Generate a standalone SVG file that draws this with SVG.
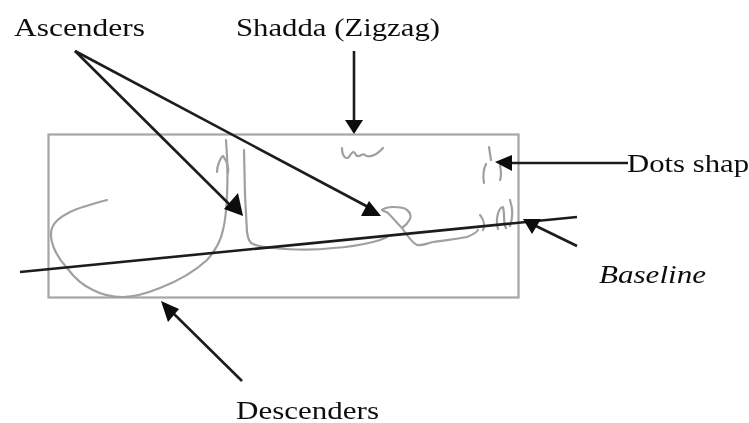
<svg xmlns="http://www.w3.org/2000/svg" width="749" height="423" viewBox="0 0 749 423">
<style>
text{font-family:"Liberation Serif","Times New Roman",serif;font-size:25px;fill:#111}
.ink{fill:none;stroke:#a0a0a0;stroke-width:2.2;stroke-linecap:round;stroke-linejoin:round}
.conn{stroke:#1c1c1c;stroke-width:2.6;fill:none}
.head{fill:#0a0a0a}
</style>
<defs><filter id="soft" x="-5%" y="-5%" width="110%" height="110%"><feGaussianBlur stdDeviation="0.45"/></filter></defs>
<rect width="749" height="423" fill="#fff"/>
<g filter="url(#soft)">
<g id="word-box"><rect x="48.500" y="134.500" width="470" height="163" fill="none" stroke="#a6a6a6" stroke-width="2.200"/></g>
<g id="handwriting">
<path class="ink" d="M107 200C92 204 78 208 70 212C60 217 54 222 52 228C48 240 56 256 67 268C76 280 86 287 93 290C104 296 114 297 123 297C136 297 150 292 160 288C178 281 194 272 207 260C216 250 221 240 223 230C227 215 229 175 226 140"/>
<path class="ink" d="M217 172C217 165 221 157 223 156C226 160 229 166 228 173"/>
<path class="ink" d="M244 150L245 195L247 232C248 240 250 243 253 244C262 248 273 248 285 249C300 250 318 250 333 248C350 247 365 244 373 242C378 241 383 239 387 237"/>
<path class="ink" d="M382 210C386 207 390 207 393 207C400 207 405 208 407 210C411 213 411 217 410 219C408 223 405 226 402 228C398 224 392 217 388 213C386 212 384 211 382 210M402 228C406 234 412 243 417 245C422 246 428 243 433 242C445 240 458 239 467 237C472 235 476 233 478 230"/>
<path class="ink" d="M480 215C484 220 485 226 483 230M498 229C495 218 499 207 503 207C505 215 503 224 506 228M510 226C514 215 512 206 510 200"/>
<path class="ink" d="M342 148C342 156 346 160 349 157C352 152 354 150 356 155C359 159 362 152 365 155C368 158 376 156 383 148"/>
<path class="ink" d="M489 147L491 160M486 164C483 170 483 177 484 183M500 165C501 172 502 175 500 180"/>
</g>
<g id="connectors">
<path class="conn" d="M20 272L577 217"/>
<path class="conn" d="M75 51L232 207"/>
<path class="conn" d="M75 51L370 208"/>
<path class="conn" d="M354 51V120"/>
<path class="conn" d="M628 163H510"/>
<path class="conn" d="M577 246L536 226"/>
<path class="conn" d="M242 381L172 312"/>
<path class="head" d="M243 216L224 209L238 193Z"/>
<path class="head" d="M361 216L369 201L381 216Z"/>
<path class="head" d="M345 120H363L354 134Z"/>
<path class="head" d="M495 162L512 155V171Z"/>
<path class="head" d="M523 219H541L532 234Z"/>
<path class="head" d="M161 301L179 309L168 322Z"/>
</g>
<g id="label-ascenders"><text x="14" y="36" textLength="131" lengthAdjust="spacingAndGlyphs">Ascenders</text></g>
<g id="label-shadda"><text x="236" y="36" textLength="204" lengthAdjust="spacingAndGlyphs">Shadda (Zigzag)</text></g>
<g id="label-dots"><text x="627" y="172" textLength="122" lengthAdjust="spacingAndGlyphs">Dots shap</text></g>
<g id="label-baseline"><text x="599" y="283" font-style="italic" textLength="107" lengthAdjust="spacingAndGlyphs">Baseline</text></g>
<g id="label-descenders"><text x="236" y="419" textLength="143" lengthAdjust="spacingAndGlyphs">Descenders</text></g>
</g>
</svg>
